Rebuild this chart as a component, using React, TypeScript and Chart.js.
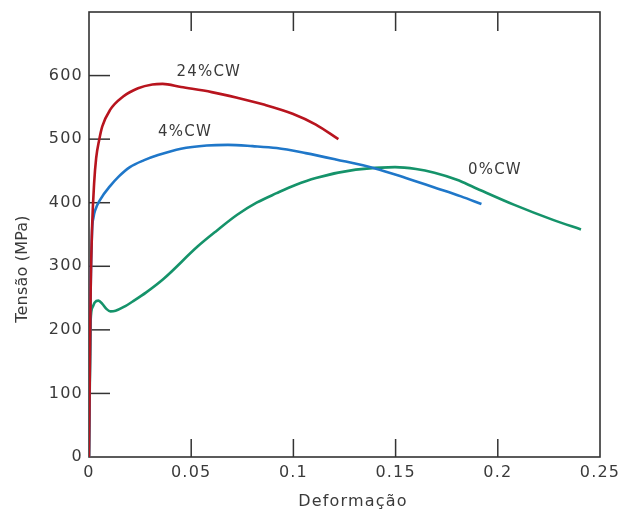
import React, { useEffect, useRef } from 'react';
import { Chart, registerables } from 'chart.js';

Chart.register(...registerables);

// 24%CW curve
const STRAIN_24 = [0, 0.0008, 0.0015, 0.0025, 0.0035, 0.005, 0.0065, 0.0103, 0.0167, 0.024, 0.031, 0.036, 0.045, 0.06, 0.0725, 0.086, 0.0996, 0.111, 0.122];
const STRESS_24 = [0, 260, 360, 430, 470, 499, 520, 546, 567, 580, 586, 587, 582, 574, 565, 554, 540, 523, 500];

// 4%CW curve
const STRAIN_4 = [0, 0.0008, 0.0015, 0.0022, 0.003, 0.0055, 0.0103, 0.0145, 0.02, 0.027, 0.0338, 0.045, 0.0576, 0.068, 0.08, 0.0918, 0.106, 0.1208, 0.14, 0.155, 0.169, 0.182, 0.192];
const STRESS_4 = [0, 260, 355, 377, 388, 405, 426, 441, 456, 467, 475, 485, 490, 491, 489, 486, 478, 468, 454, 439, 424, 410, 398];

// 0%CW curve
const STRAIN_0 = [0, 0.0008, 0.0018, 0.0028, 0.0046, 0.0065, 0.0085, 0.0105, 0.013, 0.017, 0.022, 0.028, 0.0364, 0.0531, 0.0625, 0.0725, 0.082, 0.0918, 0.101, 0.111, 0.1305, 0.1497, 0.16, 0.169, 0.18, 0.1885, 0.2078, 0.227, 0.2407];
const STRESS_0 = [0, 215, 236, 243, 246, 241, 233, 229, 230, 236, 246, 259, 280, 331, 356, 381, 400, 415, 428, 439, 452, 456, 453, 447, 436, 424, 397, 373, 358];

const SERIES_NAMES = ['24%CW', '4%CW', '0%CW'];
const SERIES_COLORS = ['#b8141e', '#1f77c9', '#15936a'];
const LABEL_STRAIN = [0.0586, 0.047, 0.1986];
const LABEL_STRESS = [605, 511, 452];

const X_TICKS = [0, 0.05, 0.1, 0.15, 0.2, 0.25];
const X_TICK_LABELS = ['0', '0.05', '0.1', '0.15', '0.2', '0.25'];
const Y_TICKS = [0, 100, 200, 300, 400, 500, 600];
const Y_TICK_LABELS = ['0', '100', '200', '300', '400', '500', '600'];

const X_TITLE = 'Deformação';
const Y_TITLE = 'Tensão (MPa)';

const FONT = 'DejaVu Sans';
const TEXT_COLOR = '#3a3a3a';
const FRAME_COLOR = '#333333';

function toPoints(xs: number[], ys: number[]) {
  return xs.map((x, i) => ({ x, y: ys[i] }));
}

const framePlugin = {
  id: 'frame',
  beforeDraw(chart: any) {
    (chart.ctx as any).letterSpacing = '1.2px';
  },
  beforeDatasetsDraw(chart: any) {
    const { ctx, chartArea: a, scales } = chart;
    ctx.save();
    ctx.strokeStyle = FRAME_COLOR;
    ctx.lineWidth = 1.6;
    ctx.strokeRect(a.left, a.top, a.right - a.left, a.bottom - a.top);
    ctx.lineWidth = 1.5;
    const xs = scales.x;
    const ys = scales.y;
    X_TICKS.forEach((v) => {
      if (v <= xs.min || v >= xs.max) return;
      const px = xs.getPixelForValue(v);
      ctx.beginPath();
      ctx.moveTo(px, a.bottom);
      ctx.lineTo(px, a.bottom - 18);
      ctx.moveTo(px, a.top);
      ctx.lineTo(px, a.top + 19);
      ctx.stroke();
    });
    Y_TICKS.forEach((v) => {
      if (v <= ys.min || v >= ys.max) return;
      const py = ys.getPixelForValue(v);
      ctx.beginPath();
      ctx.moveTo(a.left, py);
      ctx.lineTo(a.left + 21, py);
      ctx.stroke();
    });
    ctx.restore();
  },
  afterDatasetsDraw(chart: any) {
    const { ctx, scales } = chart;
    ctx.save();
    ctx.fillStyle = TEXT_COLOR;
    ctx.textAlign = 'center';
    ctx.textBaseline = 'middle';
    ctx.font = `15px "${FONT}"`;
    SERIES_NAMES.forEach((name, i) => {
      ctx.fillText(name, scales.x.getPixelForValue(LABEL_STRAIN[i]), scales.y.getPixelForValue(LABEL_STRESS[i]));
    });
    ctx.font = `16px "${FONT}"`;
    ctx.fillText(X_TITLE, 353, 502);
    (ctx as any).letterSpacing = '0.2px';
    ctx.translate(23, 269);
    ctx.rotate(-Math.PI / 2);
    ctx.fillText(Y_TITLE, 0, 0);
    ctx.restore();
  },
};

export default function App() {
  const ref = useRef<HTMLCanvasElement>(null);
  useEffect(() => {
    if (!ref.current) return;
    const datasets = [
      { label: SERIES_NAMES[0], data: toPoints(STRAIN_24, STRESS_24), borderColor: SERIES_COLORS[0] },
      { label: SERIES_NAMES[1], data: toPoints(STRAIN_4, STRESS_4), borderColor: SERIES_COLORS[1] },
      { label: SERIES_NAMES[2], data: toPoints(STRAIN_0, STRESS_0), borderColor: SERIES_COLORS[2] },
    ].map((d) => ({
      ...d,
      borderWidth: 2.6,
      pointRadius: 0,
      fill: false,
      cubicInterpolationMode: 'monotone' as const,
    }));
    const chart = new Chart(ref.current, {
      type: 'line',
      data: { datasets },
      options: {
        animation: false,
        responsive: false,
        devicePixelRatio: 1,
        layout: { padding: { top: 12, right: 20, left: 0, bottom: 0 } },
        plugins: { legend: { display: false }, tooltip: { enabled: false } },
        scales: {
          x: {
            type: 'linear',
            min: 0,
            max: 0.25,
            grid: { display: false, drawTicks: false },
            border: { display: false },
            afterBuildTicks: (s: any) => {
              s.ticks = X_TICKS.map((v) => ({ value: v }));
            },
            afterFit: (s: any) => {
              s.height = 56;
              s.paddingLeft = 0;
              s.paddingRight = 0;
            },
            ticks: {
              autoSkip: false,
              maxRotation: 0,
              padding: 6,
              color: TEXT_COLOR,
              font: { family: FONT, size: 16 },
              callback: (_v: any, i: number) => X_TICK_LABELS[i],
            },
          },
          y: {
            type: 'linear',
            min: 0,
            max: 700,
            grid: { display: false, drawTicks: false },
            border: { display: false },
            afterBuildTicks: (s: any) => {
              s.ticks = Y_TICKS.map((v) => ({ value: v }));
            },
            afterFit: (s: any) => {
              s.width = 89;
              s.paddingTop = 0;
              s.paddingBottom = 0;
            },
            ticks: {
              autoSkip: false,
              padding: 6,
              color: TEXT_COLOR,
              font: { family: FONT, size: 16 },
              callback: (_v: any, i: number) => Y_TICK_LABELS[i],
            },
          },
        },
      },
      plugins: [framePlugin],
    });
    return () => chart.destroy();
  }, []);
  return (
    <div style={{ position: 'fixed', left: 0, top: 0, width: 620, height: 513, background: '#fff' }}>
      <canvas ref={ref} width={620} height={513} style={{ display: 'block' }} />
    </div>
  );
}
